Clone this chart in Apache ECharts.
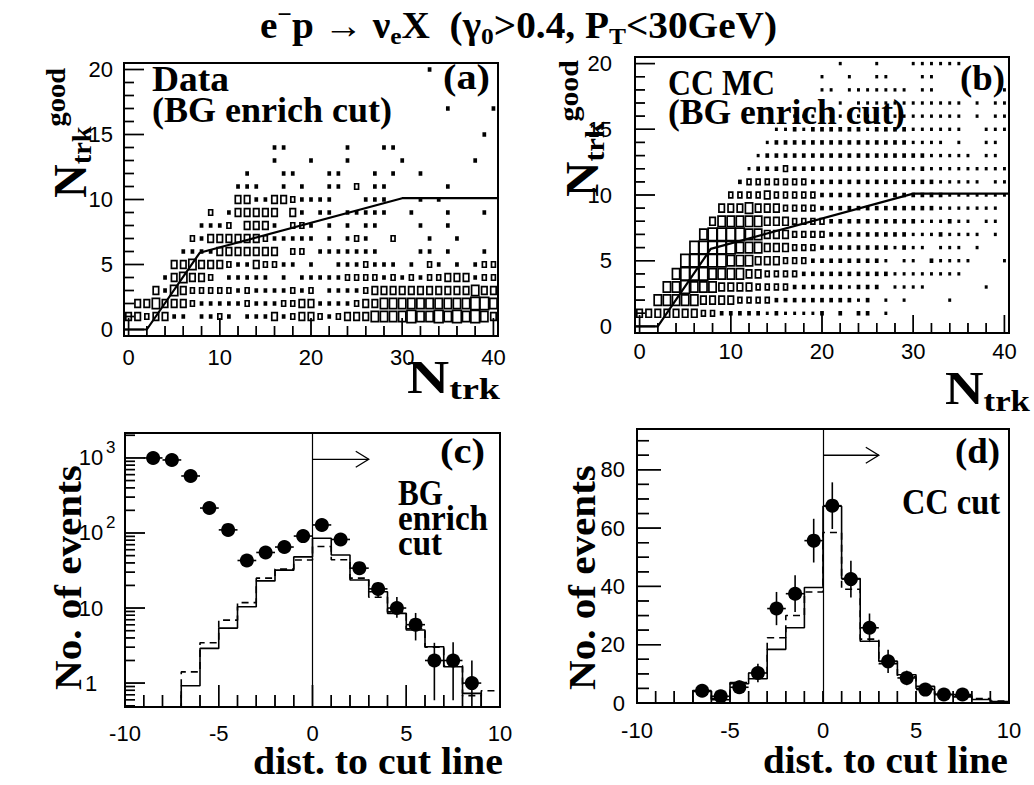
<!DOCTYPE html>
<html><head><meta charset="utf-8">
<script src="https://cdn.jsdelivr.net/npm/echarts@6/dist/echarts.min.js"></script>
<style>html,body{margin:0;padding:0;background:#fff}#c{width:1034px;height:785px}</style>
</head><body><div id="c"></div>
<script>
// ================= DATA =================
// Panel (a): Data, box sizes per cell, rows j = N_trk^good 0..20, columns i = N_trk 0..40
const countsA = [
[0,0,0,0,0,0,0,0,0,0, 0,0,0,0,0,0,0,0,0,0, 0,0,0,0,0,0,0,0,0,0, 0,0,0,0,0,0,0,0,0,0, 0],
[8,8,4,8,8,2,2,0,2,2, 4,2,0,2,2,2,8,2,4,8, 8,4,2,4,8,8,8,14,14,14, 14,20,14,14,20,14,20,14,20,14, 8],
[0,8,8,14,8,8,8,4,2,2, 2,2,2,4,2,2,2,4,4,8, 8,2,2,2,2,4,8,8,14,14, 14,14,14,14,14,14,14,14,20,20, 14],
[0,0,0,8,2,14,8,4,4,4, 4,4,2,4,2,2,2,2,4,2, 4,0,2,2,2,2,4,8,8,8, 8,8,8,8,8,8,8,8,14,8, 8],
[0,0,0,0,2,8,14,8,8,4, 0,2,2,2,2,2,0,2,0,2, 2,2,2,2,4,4,4,4,2,4, 2,4,2,4,4,8,8,8,2,4, 4],
[0,0,0,0,0,8,8,14,8,8, 8,4,2,2,8,4,4,2,2,0, 2,0,0,2,2,2,4,2,2,2, 0,2,0,4,2,0,2,0,2,4, 4],
[0,0,0,0,0,0,2,2,2,2, 8,8,8,8,8,8,8,0,4,4, 0,2,2,2,2,2,2,2,0,0, 0,0,2,2,0,2,0,0,0,2, 0],
[0,0,0,0,0,0,0,4,2,8, 8,8,8,8,8,4,2,2,2,2, 2,0,2,0,2,4,2,0,0,4, 0,0,0,2,0,0,2,0,0,0, 0],
[0,0,0,0,0,0,0,0,2,2, 2,4,0,8,8,8,2,0,4,4, 2,0,2,0,2,0,2,2,0,0, 0,0,2,0,0,2,0,0,0,0, 0],
[0,0,0,0,0,0,0,0,0,4, 0,2,8,8,8,8,8,0,8,2, 0,2,2,0,2,2,2,2,2,0, 0,2,0,0,0,2,0,0,0,2, 0],
[0,0,0,0,0,0,0,0,0,0, 0,0,8,8,2,2,8,8,4,2, 2,2,2,0,0,0,2,2,2,0, 0,0,2,0,2,0,0,0,0,0, 0],
[0,0,0,0,0,0,0,0,0,0, 0,0,2,2,2,0,0,2,0,2, 0,0,2,2,0,4,0,2,2,0, 0,0,0,0,0,2,0,0,0,0, 0],
[0,0,0,0,0,0,0,0,0,0, 0,0,0,2,0,0,0,2,2,0, 0,0,2,2,0,0,0,2,0,2, 0,0,2,0,0,0,0,0,0,0, 0],
[0,0,0,0,0,0,0,0,0,0, 0,0,0,0,0,0,2,0,0,0, 2,0,0,0,2,0,0,0,0,0, 2,0,0,0,0,0,0,0,2,0, 0],
[0,0,0,0,0,0,0,0,0,0, 0,0,0,0,0,0,2,2,0,0, 0,0,0,0,2,0,0,0,2,2, 0,0,0,0,0,0,0,0,0,0, 0],
[0,0,0,0,0,0,0,0,0,0, 0,0,0,0,0,0,0,0,0,0, 0,0,0,0,0,0,0,0,0,0, 0,0,0,0,0,0,0,0,0,2, 0],
[0,0,0,0,0,0,0,0,0,0, 0,0,0,0,0,0,0,0,0,0, 0,0,0,0,0,0,0,0,0,0, 0,0,0,0,0,0,0,0,0,0, 0],
[0,0,0,0,0,0,0,0,0,0, 0,0,0,0,0,0,0,0,0,0, 0,0,0,0,0,0,0,0,0,0, 0,0,0,0,0,2,0,0,0,0, 2],
[0,0,0,0,0,0,0,0,0,0, 0,0,0,0,0,0,0,0,0,0, 0,0,0,0,0,0,0,0,0,0, 0,0,0,0,0,0,0,0,0,0, 0],
[0,0,0,0,0,0,0,0,0,0, 0,0,0,0,0,0,0,0,0,0, 0,0,0,0,0,0,0,0,0,0, 0,0,0,0,0,0,0,0,0,0, 0],
[0,0,0,0,0,0,0,0,0,0, 0,0,0,0,0,0,0,0,0,0, 0,0,0,0,0,0,0,0,0,0, 0,0,0,2,0,0,0,0,0,0, 0]
];
// Panel (b): CC MC
const countsB = [
[0,0,0,0,0,0,0,0,0,0, 0,0,0,0,0,0,0,0,0,0, 0,0,0,0,0,0,0,0,0,0, 0,0,0,0,0,0,0,0,0,0, 0],
[8,8,8,8,8,8,8,4,4,2, 2,2,2,2,1,2,1,1,1,1, 2,0,2,0,2,2,0,1,0,0, 0,0,0,0,0,0,0,0,0,0, 0],
[0,0,14,14,14,14,14,8,8,8, 8,4,4,4,4,2,2,2,2,2, 2,2,2,2,1,2,0,1,0,1, 0,0,0,0,1,0,0,0,0,0, 0],
[0,0,0,14,14,20,14,14,14,8, 8,8,8,4,4,4,4,2,2,2, 2,2,2,1,2,2,2,0,1,1, 1,1,0,0,0,0,0,0,1,0, 0],
[0,0,0,0,14,20,20,20,14,14, 14,14,8,8,4,4,4,4,2,2, 2,2,2,2,2,2,2,2,1,1, 1,1,1,1,1,1,0,0,0,0, 0],
[0,0,0,0,0,20,20,20,20,20, 14,14,14,8,8,8,4,4,4,2, 2,2,2,2,2,2,2,1,0,1, 1,0,2,1,1,1,1,0,0,0, 1],
[0,0,0,0,0,0,20,20,20,20, 20,14,14,14,8,8,8,4,4,4, 2,2,2,2,2,2,2,2,1,2, 1,1,0,1,1,1,0,1,0,0, 0],
[0,0,0,0,0,0,0,14,20,20, 20,20,14,14,8,8,8,4,4,4, 4,2,2,2,2,2,2,2,2,2, 1,1,1,2,1,1,1,1,0,1, 0],
[0,0,0,0,0,0,0,0,8,14, 14,14,14,14,8,8,8,4,4,4, 4,2,2,2,2,2,2,2,2,2, 2,1,1,1,2,1,1,0,1,1, 0],
[0,0,0,0,0,0,0,0,0,8, 8,8,14,8,8,8,4,4,4,4, 2,2,2,2,2,2,2,2,2,2, 2,2,2,1,1,1,1,1,1,1, 0],
[0,0,0,0,0,0,0,0,0,0, 4,4,4,4,8,4,4,4,4,4, 2,2,2,2,2,2,2,2,2,2, 2,2,2,2,1,1,1,1,1,1, 1],
[0,0,0,0,0,0,0,0,0,0, 0,2,4,4,4,4,4,4,4,2, 2,2,2,2,2,2,2,2,2,2, 2,2,2,1,1,1,1,1,0,1, 1],
[0,0,0,0,0,0,0,0,0,0, 0,0,1,2,2,2,4,2,2,2, 2,2,2,2,2,2,2,2,2,2, 1,2,1,1,1,1,1,1,1,1, 1],
[0,0,0,0,0,0,0,0,0,0, 0,0,0,1,2,2,2,2,2,2, 2,2,2,2,2,2,2,2,2,2, 2,2,1,1,1,1,1,0,1,1, 0],
[0,0,0,0,0,0,0,0,0,0, 0,0,0,0,1,2,2,2,2,2, 2,2,2,2,2,2,2,2,2,2, 1,1,1,1,0,1,0,0,1,1, 0],
[0,0,0,0,0,0,0,0,0,0, 0,0,0,0,0,1,1,2,1,2, 2,2,2,2,2,1,2,2,2,2, 1,1,1,1,1,1,0,0,1,1, 1],
[0,0,0,0,0,0,0,0,0,0, 0,0,0,0,0,0,0,1,1,1, 1,1,1,1,1,1,1,1,1,1, 1,1,1,1,1,1,0,1,0,1, 1],
[0,0,0,0,0,0,0,0,0,0, 0,0,0,0,0,0,0,0,0,0, 1,0,1,0,1,1,1,1,1,1, 1,1,1,1,1,1,0,1,0,1, 1],
[0,0,0,0,0,0,0,0,0,0, 0,0,0,0,0,0,0,0,0,0, 1,1,0,1,1,1,1,1,1,1, 0,1,1,0,0,0,0,0,0,0, 1],
[0,0,0,0,0,0,0,0,0,0, 0,0,0,0,0,0,0,0,0,0, 1,0,0,1,0,0,1,1,0,0, 0,1,1,0,0,0,0,0,0,0, 0],
[0,0,0,0,0,0,0,0,0,0, 0,0,0,0,0,0,0,0,0,0, 0,0,1,0,0,0,1,0,0,0, 1,1,1,1,1,1,0,0,0,0, 0]
];
const boxMax = 20;
// cut line in (a) and (b)
const cutLineX = [-0.5, 2, 7.8, 30, 40.5];
const cutLineY = [0, 0, 5.9, 10.1, 10.1];

// histogram bins for (c), (d)
const binEdges = [-10,-9,-8,-7,-6,-5,-4,-3,-2,-1,0,1,2,3,4,5,6,7,8,9,10];
// (c) BG enrich cut, log scale
const cSolid  = [null,null,null,0.92,2.9,5.4,10.4,23,32,48,85,51,23.6,16.5,8.5,5.1,3.05,1.65,0.73,null];
const cDashed = [null,null,null,1.41,3.45,6.9,11.8,25,33,43.7,66,44,25,13.9,8.9,5.3,3.0,1.7,0.68,0.79];
const cPointX = [-8.5,-7.5,-6.5,-5.5,-4.5,-3.5,-2.5,-1.5,-0.5,0.5,1.5,2.5,3.5,4.5,5.5,6.5,7.5,8.5];
const cPointY = [1000,940,575,215,110,43,55,65,91,128,82,34,18,10,6,2,2,1];
const cErrLow  = [969,909,551,200,100,37,48,57,81,117,73,28,14,7.4,3.7,0.59,0.59,0.3];
const cErrHigh = [1032,971,599,230,120,50,62,73,101,139,91,40,22,14,8.6,3.44,3.5,2.0];
// (d) CC cut, linear scale
const dSolid  = [null,null,null,4.0,1.1,6.6,8.3,18.4,25.8,39.6,67.5,42.7,21.2,14.3,9.7,5.7,2.9,2.1,1.2,0.5];
const dDashed = [null,null,null,4.3,1.5,7.0,10.3,22.4,30,38.1,58.5,39,21.9,13.5,9.0,5.0,3.0,2.5,1.5,0.7];
const dPointX = [-6.5,-5.5,-4.5,-3.5,-2.5,-1.5,-0.5,0.5,1.5,2.5,3.5,4.5,5.5,6.5,7.5];
const dPointY = [4.2,2.3,5.4,10.3,32.4,37.5,55.7,67.7,42.5,25.8,14.3,8.6,4.6,2.9,2.9];
const dErr    = [2,1.5,2.3,3.2,5.7,6.3,7.5,8,6.3,4.9,4,2.5,2,1.5,1.5];
// cut position and arrow (x0, y0, x1, y1)
const cutArrowC = [0, 960, 3, 960];
const cutArrowD = [0, 85, 3, 85];

// tick labels
const labelsNtrk = [0,10,20,30,40];
const labelsNgood = [0,5,10,15,20];
const labelsDist = [-10,-5,0,5,10];
const labelsLogC = [1,10,100,1000];
const labelsLinD = [0,20,40,60,80];
const minorLogC = [0.5,0.6,0.7,0.8,0.9,2,3,4,5,6,7,8,9,20,30,40,50,60,70,80,90,200,300,400,500,600,700,800,900,2000];

// ================= HELPERS =================
const SERIF = '"Liberation Serif", "Times New Roman", serif';
const SANS = '"Liberation Sans", Arial, sans-serif';
const mctx = document.createElement('canvas').getContext('2d');
function fontStr(sz, bold, fam) { return (bold ? 'bold ' : '') + sz + 'px ' + fam; }
function range(a, b, s) { const r = []; for (let v = a; v <= b + 1e-9; v += s) r.push(Math.round(v * 1000) / 1000); return r; }
function txtStyle(text, font, align) {
  return {text, font, fill: '#000', align, textAlign: align, verticalAlign: 'middle', textVerticalAlign: 'middle'};
}
function textBlock(tokens, o) {
  let total = 0;
  const parts = tokens.map(tk => {
    const f = fontStr(tk.s || o.size, true, SERIF);
    mctx.font = f;
    const w = mctx.measureText(tk.t).width;
    total += w;
    return {t: tk.t, f, w, dy: tk.dy || 0};
  });
  const sx = o.width ? o.width / total : 1;
  let cur = o.align === 'right' ? -total : (o.align === 'center' ? -total / 2 : 0);
  const children = parts.map(p => {
    const el = {type: 'text', x: cur, y: p.dy, style: txtStyle(p.t, p.f, 'left')};
    cur += p.w;
    return el;
  });
  return {type: 'group', x: o.x, y: o.y, rotation: o.rot || 0, scaleX: sx, children};
}
function cells(rows) {
  const out = [];
  rows.forEach((row, j) => row.forEach((v, i) => { if (v > 0) out.push([i, j, v]); }));
  return out;
}
function boxItem(params, api) {
  const v = api.value(2);
  const c = api.coord([api.value(0), api.value(1)]);
  const s = api.size([1, 1]);
  const f = 0.95 * Math.sqrt(v / boxMax);
  const w = s[0] * f, h = s[1] * f;
  if (w < 3.6) {
    const ws = Math.max(w + 1, 2.4), hs = Math.max(h + 0.6, 2.8);
    return {type: 'rect', shape: {x: c[0] - ws / 2, y: c[1] - hs / 2, width: ws, height: hs}, style: {fill: '#000'}};
  }
  return {type: 'rect', shape: {x: c[0] - w / 2, y: c[1] - h / 2, width: w, height: h},
    style: {fill: 'none', stroke: '#000', lineWidth: 1.7}};
}
function stepData(edges, vals, floor) {
  let a = vals.findIndex(v => v != null), b = vals.length - 1;
  while (vals[b] == null) b--;
  const pts = [[edges[a], floor]];
  for (let k = a; k <= b; k++) pts.push([edges[k], vals[k]]);
  pts.push([edges[b + 1], vals[b]]);
  pts.push([edges[b + 1], floor]);
  return pts;
}
function errItem(params, api) {
  const x = api.value(0), y = api.value(1), lo = api.value(2), hi = api.value(3);
  const a = api.coord([x, lo]), b = api.coord([x, hi]);
  const l = api.coord([x - 0.5, y]), r = api.coord([x + 0.5, y]);
  const st = {stroke: '#000', lineWidth: 1.6};
  return {type: 'group', children: [
    {type: 'line', shape: {x1: a[0], y1: a[1], x2: b[0], y2: b[1]}, style: st},
    {type: 'line', shape: {x1: l[0], y1: l[1], x2: r[0], y2: r[1]}, style: st}
  ]};
}
function arrowItem(params, api) {
  const p0 = api.coord([api.value(0), api.value(1)]), p1 = api.coord([api.value(2), api.value(3)]);
  const st = {stroke: '#000', lineWidth: 1.3, fill: 'none'};
  return {type: 'group', children: [
    {type: 'line', shape: {x1: p0[0], y1: p0[1], x2: p1[0], y2: p1[1]}, style: st},
    {type: 'polyline', shape: {points: [[p1[0] - 13, p1[1] - 8], [p1[0], p1[1]], [p1[0] - 13, p1[1] + 8]]}, style: st}
  ]};
}
function minorsOf(majors, all) { return all.filter(v => majors.indexOf(v) < 0); }
// tick labels at the major ticks; data item: [x, y, isY]
function labelSeries(ax, xl, yl, o) {
  const data = xl.map(v => [v, o.refY, 0]).concat(yl.map(v => [o.refX, v, 1]));
  const font = fontStr(22, false, SANS);
  return {type: 'custom', xAxisIndex: ax, yAxisIndex: ax, data, silent: true, z: 6, clip: false,
    renderItem(params, api) {
      const cs = params.coordSys, isY = api.value(2) === 1;
      const xv = api.value(0), yv = api.value(1);
      const p = api.coord([xv, yv]);
      if (!isY) return {type: 'text', x: p[0], y: cs.y + cs.height + o.xOff, style: txtStyle(String(xv), font, 'center')};
      if (o.log) {
        const e = Math.round(Math.log10(yv));
        if (e >= 2) {
          return {type: 'group', children: [
            {type: 'text', x: cs.x - o.yOff, y: p[1], style: txtStyle('10', font, 'center')},
            {type: 'text', x: cs.x - o.yOff + 15, y: p[1] - 10, style: txtStyle(String(e), fontStr(17, false, SANS), 'left')}
          ]};
        }
        return {type: 'text', x: cs.x - o.yOff, y: p[1], style: txtStyle(String(yv), font, 'center')};
      }
      return {type: 'text', x: cs.x - o.yOff, y: p[1], style: txtStyle(String(yv), font, 'right')};
    }};
}

// ================= OPTION =================
const gridBoxes = [
  {left: 124, top: 63, width: 374, height: 273},
  {left: 635, top: 57, width: 374, height: 276},
  {left: 125, top: 433, width: 375, height: 274},
  {left: 637, top: 429, width: 372, height: 274}
];
const grids = gridBoxes.map(g => Object.assign({}, g, {show: true, borderColor: '#000', borderWidth: 2, backgroundColor: 'transparent'}));
const xRanges = [[-0.5, 40.5], [-0.5, 40.5], [-10, 10], [-10, 10]];
const yRanges = [[-0.5, 20.5], [-0.5, 20.5], [0.48, 2150], [0, 94]];
// tick positions per panel: [majors, minors]
const xTicks = [
  [labelsNtrk, minorsOf(labelsNtrk, range(0, 40, 2))],
  [labelsNtrk, minorsOf(labelsNtrk, range(0, 40, 2))],
  [labelsDist, minorsOf(labelsDist, range(-10, 10, 1))],
  [labelsDist, minorsOf(labelsDist, range(-10, 10, 1))]
];
const yTicks = [
  [labelsNgood, minorsOf(labelsNgood, range(0, 20, 1))],
  [labelsNgood, minorsOf(labelsNgood, range(0, 20, 1))],
  [labelsLogC, minorLogC],
  [labelsLinD, minorsOf(labelsLinD, range(0, 90, 5))]
];
const xTickLen = [[18, 10], [18, 10], [22, 12], [12, 12]];
const yTickLen = [[20, 10], [20, 10], [20, 10], [24, 12]];

const xAxes = xRanges.map((r, k) => ({gridIndex: k, type: 'value', min: r[0], max: r[1], show: false}));
const yAxes = yRanges.map((r, k) => (k === 2
  ? {gridIndex: k, type: 'log', logBase: 10, min: r[0], max: r[1], show: false}
  : {gridIndex: k, type: 'value', min: r[0], max: r[1], show: false}));

const blackLine = (w, type) => ({color: '#000', width: w, type: type || 'solid'});
const series = [];
// (a), (b) boxes and cut lines
[countsA, countsB].forEach((rows, k) => {
  series.push({type: 'custom', xAxisIndex: k, yAxisIndex: k, data: cells(rows), renderItem: boxItem, clip: true, silent: true, z: 2});
  series.push({type: 'line', xAxisIndex: k, yAxisIndex: k, data: cutLineX.map((x, n) => [x, cutLineY[n]]),
    symbol: 'none', lineStyle: blackLine(2.2), silent: true, z: 3});
});
// (c)
series.push({type: 'line', xAxisIndex: 2, yAxisIndex: 2, data: stepData(binEdges, cSolid, 0.3), step: 'end',
  symbol: 'none', lineStyle: blackLine(1.6), silent: true, z: 3,
  markLine: {symbol: 'none', silent: true, label: {show: false}, lineStyle: blackLine(1.2), data: [{xAxis: 0}]}});
series.push({type: 'line', xAxisIndex: 2, yAxisIndex: 2, data: stepData(binEdges, cDashed, 0.3), step: 'end',
  symbol: 'none', lineStyle: blackLine(1.6, [7, 5]), silent: true, z: 3});
series.push({type: 'custom', xAxisIndex: 2, yAxisIndex: 2, clip: true, silent: true, z: 4, renderItem: errItem,
  data: cPointX.map((x, n) => [x, cPointY[n], cErrLow[n], cErrHigh[n]])});
series.push({type: 'scatter', xAxisIndex: 2, yAxisIndex: 2, data: cPointX.map((x, n) => [x, cPointY[n]]),
  symbol: 'circle', symbolSize: 14, itemStyle: {color: '#000', opacity: 1}, silent: true, z: 5});
series.push({type: 'custom', xAxisIndex: 2, yAxisIndex: 2, data: [cutArrowC], renderItem: arrowItem, silent: true, z: 4});
// (d)
series.push({type: 'line', xAxisIndex: 3, yAxisIndex: 3, data: stepData(binEdges, dSolid, 0), step: 'end',
  symbol: 'none', lineStyle: blackLine(1.6), silent: true, z: 3,
  markLine: {symbol: 'none', silent: true, label: {show: false}, lineStyle: blackLine(1.2), data: [{xAxis: 0}]}});
series.push({type: 'line', xAxisIndex: 3, yAxisIndex: 3, data: stepData(binEdges, dDashed, 0), step: 'end',
  symbol: 'none', lineStyle: blackLine(1.6, [7, 5]), silent: true, z: 3});
series.push({type: 'custom', xAxisIndex: 3, yAxisIndex: 3, clip: true, silent: true, z: 4, renderItem: errItem,
  data: dPointX.map((x, n) => [x, dPointY[n], dPointY[n] - dErr[n], dPointY[n] + dErr[n]])});
series.push({type: 'scatter', xAxisIndex: 3, yAxisIndex: 3, data: dPointX.map((x, n) => [x, dPointY[n]]),
  symbol: 'circle', symbolSize: 14, itemStyle: {color: '#000', opacity: 1}, silent: true, z: 5});
series.push({type: 'custom', xAxisIndex: 3, yAxisIndex: 3, data: [cutArrowD], renderItem: arrowItem, silent: true, z: 4});

// inside ticks as thin rectangular scatter symbols sitting on the bottom / left edge
for (let k = 0; k < 4; k++) {
  const xm = xRanges[k][0], ym = yRanges[k][0];
  const xData = xTicks[k][0].map(v => ({value: [v, ym], len: xTickLen[k][0]}))
    .concat(xTicks[k][1].map(v => ({value: [v, ym], len: xTickLen[k][1]})));
  const yData = yTicks[k][0].map(v => ({value: [xm, v], len: yTickLen[k][0]}))
    .concat(yTicks[k][1].map(v => ({value: [xm, v], len: yTickLen[k][1]})));
  series.push({type: 'scatter', xAxisIndex: k, yAxisIndex: k, clip: false, silent: true, z: 7,
    data: xData.map(d => ({value: d.value, symbol: 'rect', symbolSize: [1.4, d.len], symbolOffset: [0, -d.len / 2]})),
    itemStyle: {color: '#000', opacity: 1}});
  series.push({type: 'scatter', xAxisIndex: k, yAxisIndex: k, clip: false, silent: true, z: 7,
    data: yData.map(d => ({value: d.value, symbol: 'rect', symbolSize: [d.len, 1.4], symbolOffset: [d.len / 2, 0]})),
    itemStyle: {color: '#000', opacity: 1}});
}

// tick labels
series.push(labelSeries(0, labelsNtrk, labelsNgood, {xOff: 21, yOff: 11, refX: 0, refY: 0}));
series.push(labelSeries(1, labelsNtrk, labelsNgood, {xOff: 18, yOff: 23, refX: 0, refY: 0}));
series.push(labelSeries(2, labelsDist, labelsLogC, {xOff: 26, yOff: 34, refX: 0, refY: 1, log: true}));
series.push(labelSeries(3, labelsDist, labelsLinD, {xOff: 27, yOff: 12, refX: 0, refY: 10}));

const NB = '\u00a0';
const graphics = [
  textBlock([{t: 'e'}, {t: '\u2212', s: 24, dy: -11}, {t: 'p' + NB + '\u2192' + NB + '\u03bd'}, {t: 'e', s: 24, dy: 11},
    {t: 'X' + NB + NB + '(\u03b3'}, {t: '0', s: 24, dy: 11}, {t: '>0.4,' + NB + 'P'}, {t: 'T', s: 24, dy: 11}, {t: '<30GeV)'}],
    {x: 260, y: 25, size: 37, width: 517}),
  textBlock([{t: 'Data'}], {x: 152, y: 79, size: 36, width: 77}),
  textBlock([{t: '(BG' + NB + 'enrich' + NB + 'cut)'}], {x: 152, y: 110, size: 36, width: 240}),
  textBlock([{t: '(a)'}], {x: 443, y: 77, size: 36, width: 47}),
  textBlock([{t: 'CC' + NB + 'MC'}], {x: 668, y: 83, size: 36, width: 107}),
  textBlock([{t: '(BG' + NB + 'enrich' + NB + 'cut)'}], {x: 668, y: 112, size: 36, width: 237}),
  textBlock([{t: '(b)'}], {x: 960, y: 78, size: 36, width: 45}),
  textBlock([{t: '(c)'}], {x: 440, y: 451, size: 36, width: 45}),
  textBlock([{t: 'BG'}], {x: 398, y: 493, size: 36, width: 45}),
  textBlock([{t: 'enrich'}], {x: 398, y: 518, size: 36, width: 90}),
  textBlock([{t: 'cut'}], {x: 398, y: 542, size: 36, width: 44}),
  textBlock([{t: '(d)'}], {x: 955, y: 451, size: 36, width: 45}),
  textBlock([{t: 'CC' + NB + 'cut'}], {x: 902, y: 501, size: 36, width: 98}),
  // axis titles
  textBlock([{t: 'N', s: 46}, {t: 'trk', s: 30, dy: 12}], {x: 407, y: 377, size: 46, width: 93}),
  textBlock([{t: 'N', s: 46}, {t: 'trk', s: 30, dy: 12}], {x: 945, y: 389, size: 46, width: 85}),
  textBlock([{t: 'N', s: 46}, {t: 'trk', s: 28, dy: 11}, {t: 'good', s: 28, dy: -15}], {x: 71, y: 198, size: 46, width: 130, rot: Math.PI / 2}),
  textBlock([{t: 'N', s: 46}, {t: 'trk', s: 28, dy: 11}, {t: 'good', s: 28, dy: -15}], {x: 583, y: 197, size: 46, width: 137, rot: Math.PI / 2}),
  textBlock([{t: 'No.' + NB + 'of' + NB + 'events'}], {x: 68, y: 690, size: 37, width: 225, rot: Math.PI / 2}),
  textBlock([{t: 'No.' + NB + 'of' + NB + 'events'}], {x: 582, y: 690, size: 37, width: 225, rot: Math.PI / 2}),
  textBlock([{t: 'dist.' + NB + 'to' + NB + 'cut' + NB + 'line'}], {x: 253, y: 761, size: 38, width: 250}),
  textBlock([{t: 'dist.' + NB + 'to' + NB + 'cut' + NB + 'line'}], {x: 763, y: 760, size: 38, width: 245})
];

const chart = echarts.init(document.getElementById('c'), null, {renderer: 'svg'});
chart.setOption({
  animation: false,
  backgroundColor: '#fff',
  grid: grids,
  xAxis: xAxes,
  yAxis: yAxes,
  series,
  graphic: {elements: graphics}
});

// second path for the same inside ticks: positions from the chart's own scales (convertToPixel)
const tickEls = [];
for (let k = 0; k < 4; k++) {
  const xm = xRanges[k][0], ym = yRanges[k][0];
  [[xTicks[k][0], xTickLen[k][0]], [xTicks[k][1], xTickLen[k][1]]].forEach(([vals, len]) => vals.forEach(v => {
    const p = chart.convertToPixel({gridIndex: k}, [v, ym]);
    if (p && isFinite(p[0]) && isFinite(p[1])) tickEls.push({type: 'line', silent: true, z: 50,
      shape: {x1: p[0], y1: p[1], x2: p[0], y2: p[1] - len}, style: {stroke: '#000', lineWidth: 1.4}});
  }));
  [[yTicks[k][0], yTickLen[k][0]], [yTicks[k][1], yTickLen[k][1]]].forEach(([vals, len]) => vals.forEach(v => {
    const p = chart.convertToPixel({gridIndex: k}, [xm, v]);
    if (p && isFinite(p[0]) && isFinite(p[1])) tickEls.push({type: 'line', silent: true, z: 50,
      shape: {x1: p[0], y1: p[1], x2: p[0] + len, y2: p[1]}, style: {stroke: '#000', lineWidth: 1.4}});
  }));
}
chart.setOption({graphic: {elements: graphics.concat(tickEls)}});
</script>
</body></html>
